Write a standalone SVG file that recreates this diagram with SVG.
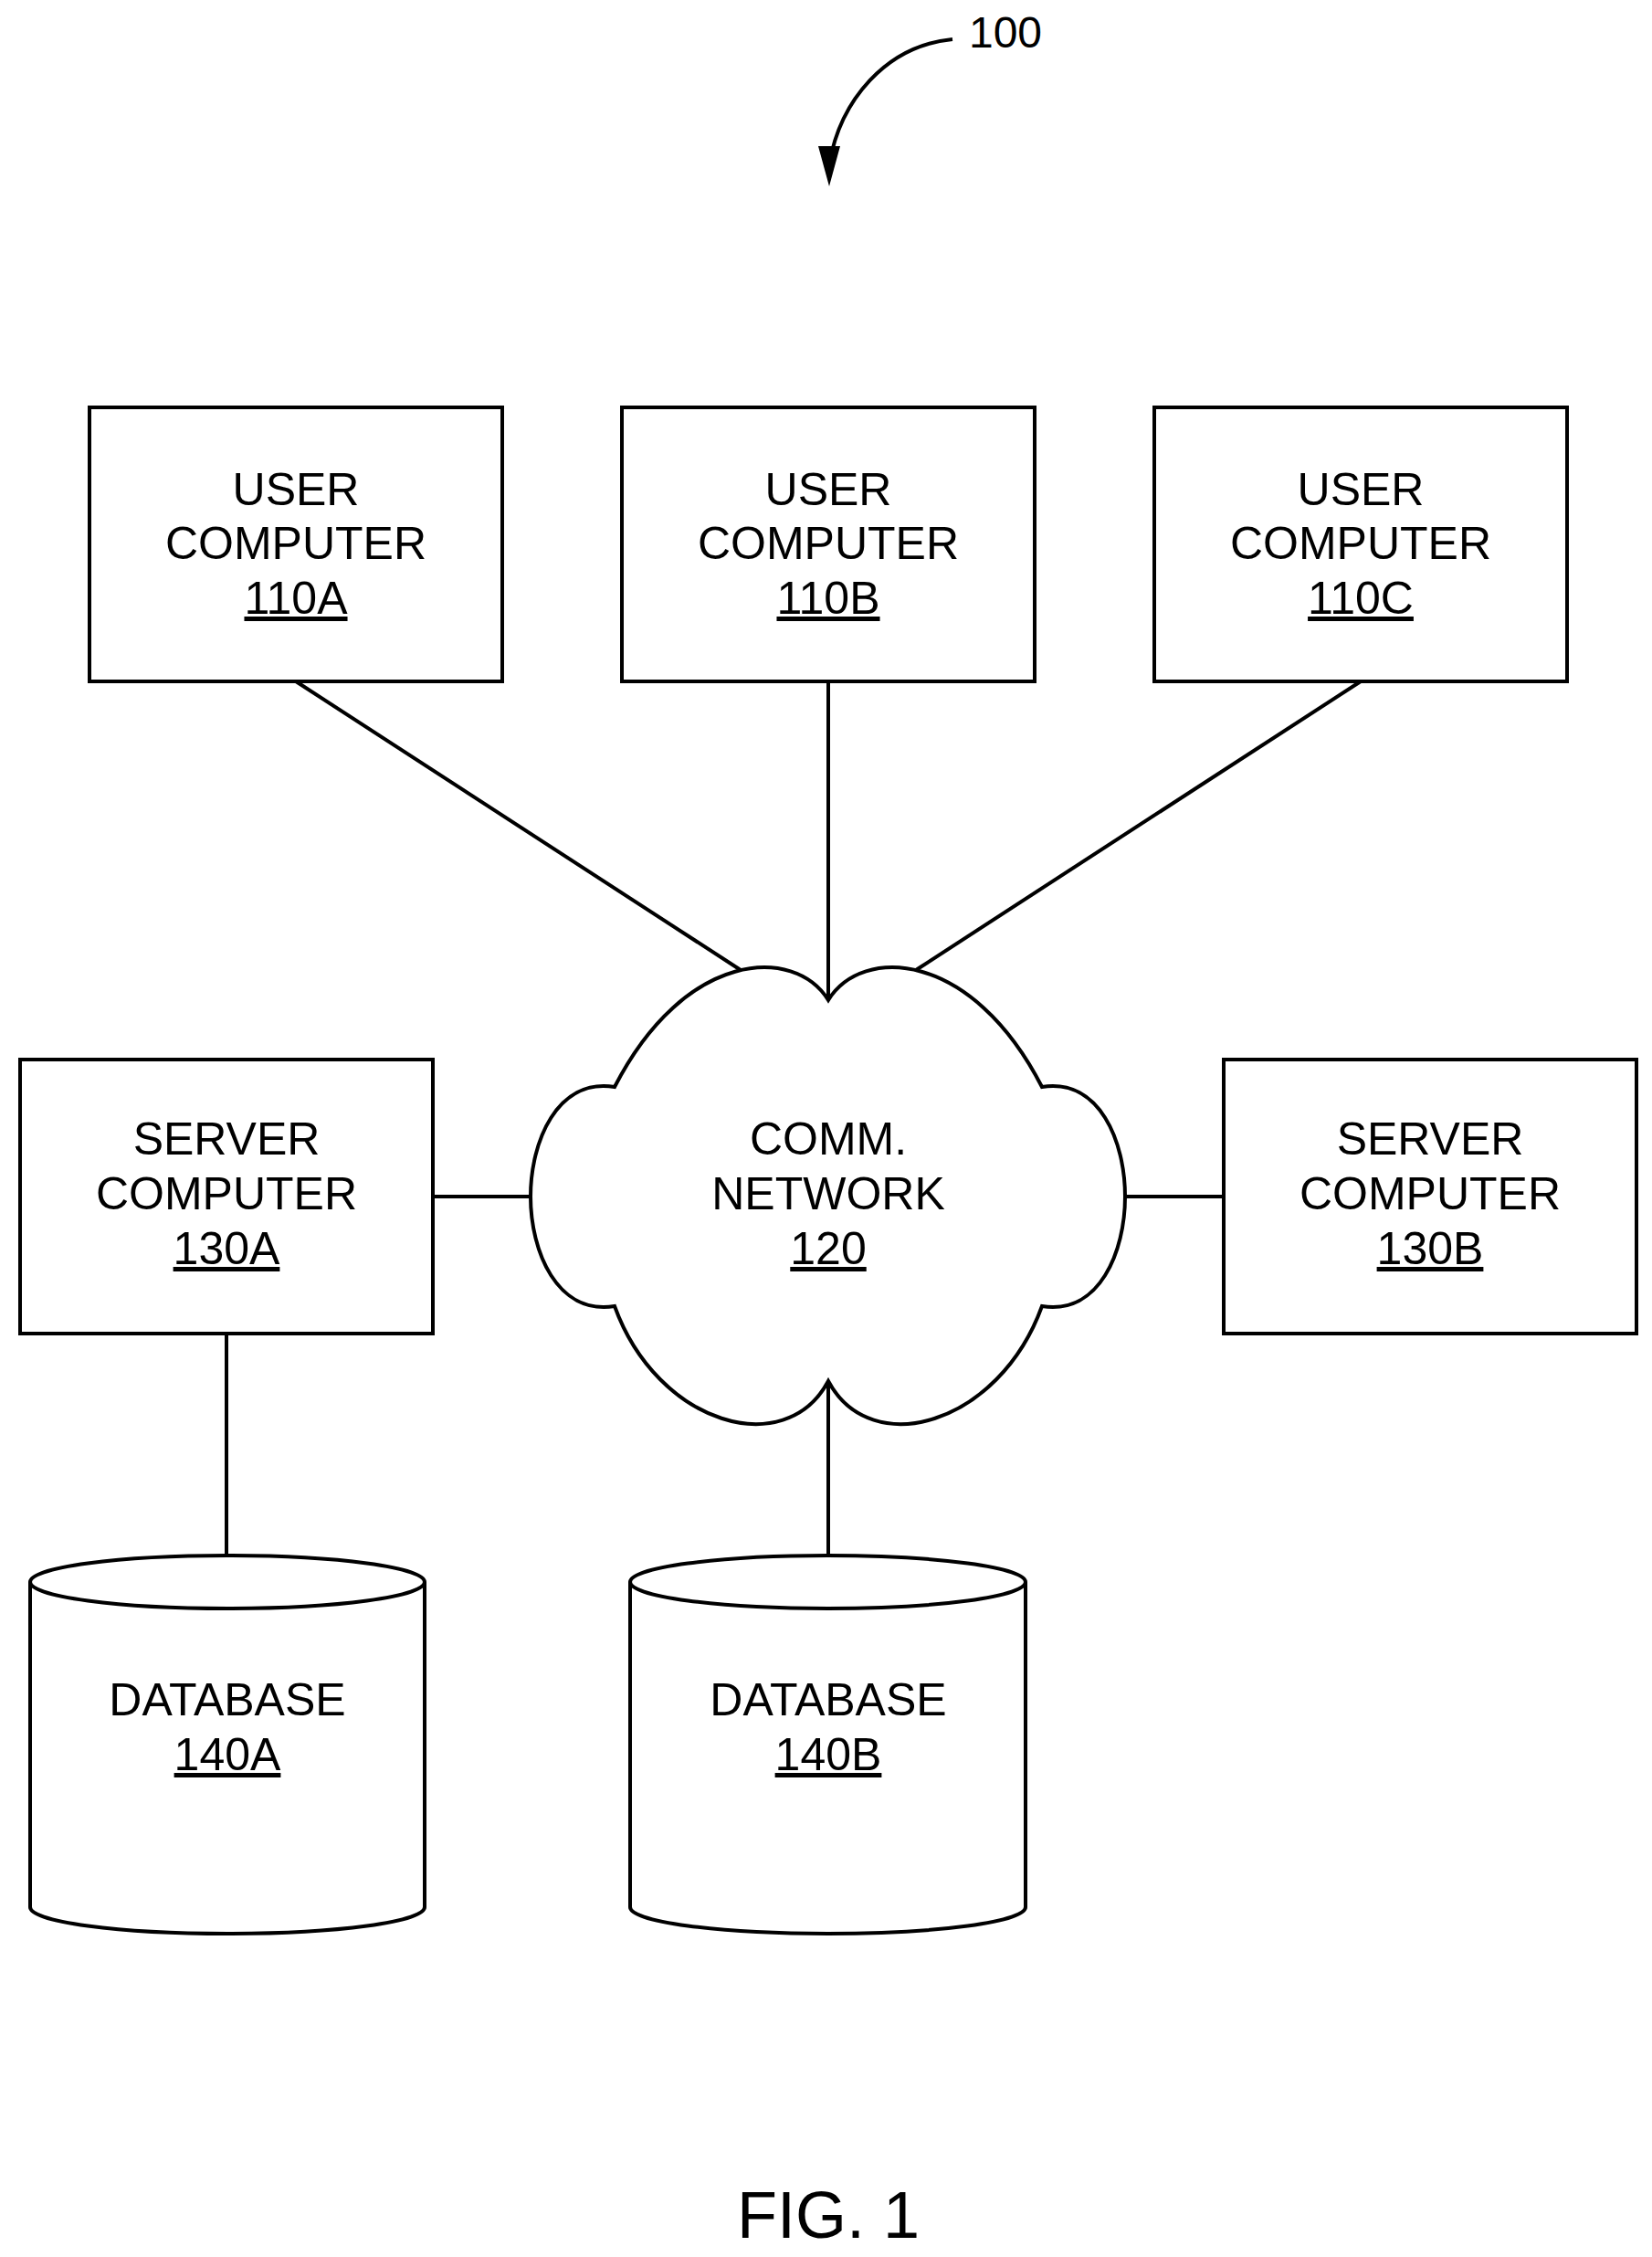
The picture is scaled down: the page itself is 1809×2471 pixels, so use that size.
<svg xmlns="http://www.w3.org/2000/svg" width="1809" height="2471" viewBox="0 0 1809 2471">
<style>
.b{fill:#fff;stroke:#000;stroke-width:4}
.l{fill:none;stroke:#000;stroke-width:4}
text{font-family:"Liberation Sans",Arial,sans-serif;font-size:50px;text-anchor:middle;fill:#000}
.u{text-decoration:underline}
</style>
<g id="connectors">
<line class="l" x1="324" y1="746" x2="811" y2="1062"/>
<line class="l" x1="907" y1="746" x2="907" y2="1095"/>
<line class="l" x1="1490" y1="746" x2="1003" y2="1062"/>
<line class="l" x1="474" y1="1310" x2="583" y2="1310"/>
<line class="l" x1="1230" y1="1310" x2="1340" y2="1310"/>
<line class="l" x1="248" y1="1460" x2="248" y2="1703"/>
<line class="l" x1="907" y1="1512" x2="907" y2="1703"/>
</g>
<g id="ref100">
<text x="1101" y="52" style="font-size:48px">100</text>
<path class="l" d="M1043,43 C970,50 920,110 908,180"/>
<path d="M896,160 L920,160 L908,204 Z" fill="#000"/>
</g>
<g id="n110A"><rect class="b" x="98" y="446" width="452" height="300"/>
<text x="324" y="553">USER</text><text x="324" y="612">COMPUTER</text><text class="u" x="324" y="672">110A</text></g>
<g id="n110B"><rect class="b" x="681" y="446" width="452" height="300"/>
<text x="907" y="553">USER</text><text x="907" y="612">COMPUTER</text><text class="u" x="907" y="672">110B</text></g>
<g id="n110C"><rect class="b" x="1264" y="446" width="452" height="300"/>
<text x="1490" y="553">USER</text><text x="1490" y="612">COMPUTER</text><text class="u" x="1490" y="672">110C</text></g>
<g id="n130A"><rect class="b" x="22" y="1160" width="452" height="300"/>
<text x="248" y="1264">SERVER</text><text x="248" y="1324">COMPUTER</text><text class="u" x="248" y="1384">130A</text></g>
<g id="n130B"><rect class="b" x="1340" y="1160" width="452" height="300"/>
<text x="1566" y="1264">SERVER</text><text x="1566" y="1324">COMPUTER</text><text class="u" x="1566" y="1384">130B</text></g>
<g id="n120">
<path class="b" d="M907,1095 C870,1035 750,1040 673,1190 C610,1180 581,1250 581,1310 C581,1370 610,1440 673,1430 C720,1560 860,1600 907,1512 C954,1600 1094,1560 1141,1430 C1204,1440 1232,1370 1232,1310 C1232,1250 1204,1180 1141,1190 C1064,1040 944,1035 907,1095 Z"/>
<text x="907" y="1264">COMM.</text><text x="907" y="1324">NETWORK</text><text class="u" x="907" y="1384">120</text></g>
<g id="n140A">
<path class="b" d="M33,1732 A216,29 0 0 1 465,1732 L465,2088 A216,29 0 0 1 33,2088 Z"/>
<path class="l" d="M33,1732 A216,29 0 0 0 465,1732"/>
<text x="249" y="1878">DATABASE</text><text class="u" x="249" y="1938">140A</text></g>
<g id="n140B">
<path class="b" d="M690,1732 A216.5,29 0 0 1 1123,1732 L1123,2088 A216.5,29 0 0 1 690,2088 Z"/>
<path class="l" d="M690,1732 A216.5,29 0 0 0 1123,1732"/>
<text x="907" y="1878">DATABASE</text><text class="u" x="907" y="1938">140B</text></g>
<text x="907" y="2450" style="font-size:72px">FIG. 1</text>
</svg>
